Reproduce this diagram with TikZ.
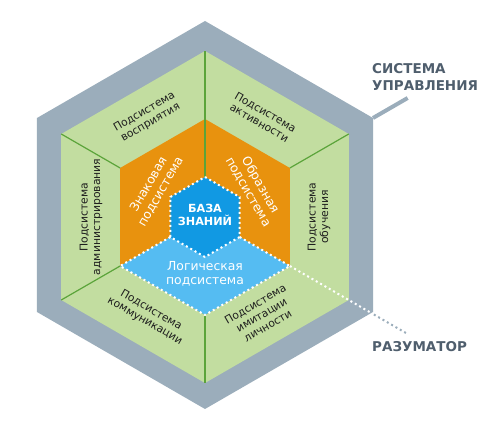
\documentclass[tikz,border=0pt]{standalone}
\usepackage{fontspec}
\setmainfont{DejaVu Sans}
\usetikzlibrary{calc}

\definecolor{frameGray}{HTML}{9BADBB}
\definecolor{leafGreen}{HTML}{C2DDA0}
\definecolor{leafLine}{HTML}{5BA43A}
\definecolor{amber}{HTML}{E8920E}
\definecolor{skyBlue}{HTML}{55BCF2}
\definecolor{coreBlue}{HTML}{1199E3}
\definecolor{slate}{HTML}{4F5E6D}
\definecolor{ink}{HTML}{1E1E1E}

\tikzset{
  subsys/.style={font=\fontsize{10.8}{12.4}\selectfont, text=ink, align=center, inner sep=0pt},
  mindsys/.style={font=\fontsize{12.4}{14}\selectfont, text=white, align=center, inner sep=0pt},
  caption/.style={font=\bfseries\fontsize{13.5}{17}\selectfont, text=slate, align=left, anchor=west, inner sep=0pt},
  divider/.style={leafLine, line width=1.2pt},
  dots/.style={white, line width=2pt, dash pattern=on 2pt off 3pt},
}

\begin{document}
\begin{tikzpicture}[x=1pt, y=1pt]
    \useasboundingbox (0,0) rectangle (489,446);

    % Centres of the frame and of the mind
    \coordinate (F) at (205,231);
    \coordinate (C) at (205,229);

    % Control system frame
    \begin{scope}[shift={(F)}]
        \fill[frameGray] (90:194) \foreach \a in {30,-30,-90,-150,150} { -- (\a:194) } -- cycle;
        \coordinate (ctrlTip) at (30:194);
        \coordinate (ctrlEnd) at (30:234);
    \end{scope}
    \draw[frameGray, line width=4pt] (ctrlTip) -- (ctrlEnd);
    \node[caption] (ctrl) at (372,369) {СИСТЕМА\\УПРАВЛЕНИЯ};

    \begin{scope}[shift={(C)}]
        % Green ring of subsystems
        \fill[leafGreen] (90:166) \foreach \a in {30,-30,-90,-150,150} { -- (\a:166) } -- cycle;

        % Sign and image subsystems
        \fill[amber] (90:98) \foreach \a in {30,-30,-90,-150,150} { -- (\a:98) } -- cycle;

        % Logic subsystem
        \fill[skyBlue] (0,0) -- (-150:98) -- (-90:98) -- (-30:98) -- cycle;

        % Knowledge base
        \fill[coreBlue] (90:40) \foreach \a in {30,-30,-90,-150,150} { -- (\a:40) } -- cycle;

        % Dividers
        \foreach \a/\r in {90/40, 150/98, 30/98, -150/98, -90/98}
            \draw[divider] (\a:\r) -- (\a:166);

        % Dotted borders
        \draw[dots] (90:40) \foreach \a in {30,-30,-90,-150,150} { -- (\a:40) } -- cycle;
        \draw[dots] (-150:40) -- (-150:98) -- (-90:98) -- (-30:98) -- (-30:40);
        \coordinate (razStart) at (-30:98);
        \coordinate (razMid) at (-30:195);
        \coordinate (razEnd) at (-30:234);

        % Subsystems
        \node[subsys, rotate=30] (percep) at (120:115) {Подсистема\\восприятия};
        \node[subsys, rotate=-30] (activ) at (60:115) {Подсистема\\активности};
        \node[subsys, rotate=90] (learn) at (0:114) {Подсистема\\обучения};
        \node[subsys, rotate=30] (person) at (-60:113) {Подсистема\\имитации\\личности};
        \node[subsys, rotate=-30] (comm) at (-120:114) {Подсистема\\коммуникации};
        \node[subsys, rotate=90] (admin) at (180:114) {Подсистема\\администрирования};

        % Mind
        \node[mindsys, rotate=60] (sign) at (150:58) {Знаковая\\подсистема};
        \node[mindsys, rotate=-60] (image) at (30:57) {Образная\\подсистема};
        \node[mindsys] (logic) at (-90:57) {Логическая\\подсистема};
        \node[mindsys, font=\bfseries\fontsize{11.2}{13.5}\selectfont] (base) at (0,2) {БАЗА\\ЗНАНИЙ};
    \end{scope}

    % Pointer to the mind
    \draw[dots] (razStart) -- (razMid);
    \draw[dots, frameGray] (razMid) -- (razEnd);
    \node[caption] (raz) at (372,99) {РАЗУМАТОР};
\end{tikzpicture}
\end{document}
